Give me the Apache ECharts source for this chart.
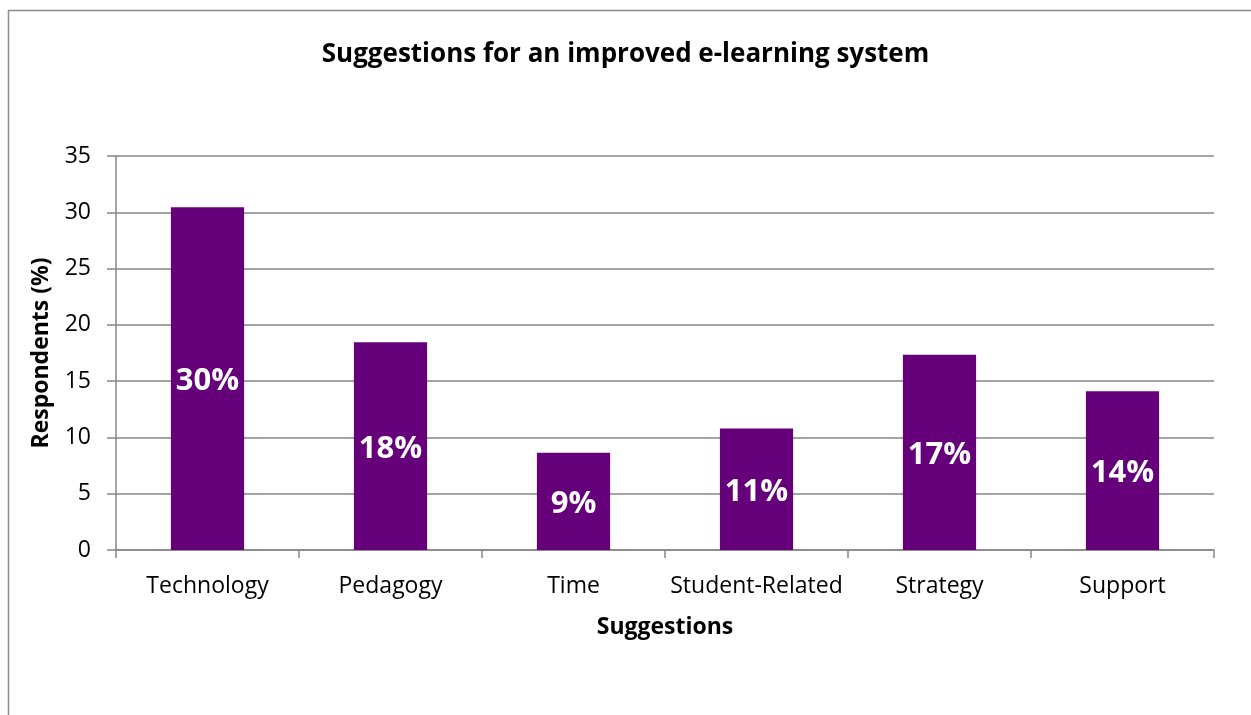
<!DOCTYPE html>
<html>
<head>
<meta charset="utf-8">
<script src="https://cdn.jsdelivr.net/npm/echarts@6/dist/echarts.min.js"></script>
<style>html,body{margin:0;padding:0;background:#fff;}#c{width:1251px;height:715px;}</style>
</head>
<body>
<div id="c"></div>
<script>
const categories = ['Technology', 'Pedagogy', 'Time', 'Student-Related', 'Strategy', 'Support'];
const values = [30.45, 18.45, 8.65, 10.8, 17.35, 14.1];
const valueLabels = ['30%', '18%', '9%', '11%', '17%', '14%'];
const yTicks = { min: 0, max: 35, interval: 5 };

const chart = echarts.init(document.getElementById('c'));
const FONT = 'Open Sans';
chart.setOption({
  backgroundColor: '#fff',
  animation: false,
  textStyle: { fontFamily: FONT },
  graphic: [{
    type: 'rect',
    shape: { x: 8.5, y: 10.5, width: 1400, height: 900 },
    style: { fill: 'none', stroke: '#8c8c8c', lineWidth: 1.5 },
    silent: true
  }],
  title: {
    text: 'Suggestions for an improved e-learning system',
    left: 'center',
    top: 37,
    textStyle: { fontFamily: FONT, fontSize: 26, fontWeight: 'bold', color: '#000' }
  },
  grid: { left: 116, right: 37, top: 156, bottom: 165, containLabel: false },
  xAxis: {
    type: 'category',
    data: categories,
    name: 'Suggestions',
    nameLocation: 'middle',
    nameGap: 66,
    nameTextStyle: { fontFamily: FONT, fontSize: 23, fontWeight: 'bold', color: '#000' },
    axisLine: { show: true, lineStyle: { color: '#868686', width: 1.5 } },
    axisTick: { show: true, alignWithLabel: false, length: 8, lineStyle: { color: '#868686', width: 1.5 } },
    axisLabel: { interval: 0, fontFamily: FONT, fontSize: 23, color: '#000', margin: 25 }
  },
  yAxis: {
    type: 'value',
    min: yTicks.min, max: yTicks.max, interval: yTicks.interval,
    name: 'Respondents (%)',
    nameLocation: 'middle',
    nameGap: 63,
    nameTextStyle: { fontFamily: FONT, fontSize: 23, fontWeight: 'bold', color: '#000' },
    axisLine: { show: true, lineStyle: { color: '#868686', width: 1.5 } },
    axisTick: { show: true, length: 9, lineStyle: { color: '#868686', width: 1.5 } },
    axisLabel: { fontFamily: FONT, fontSize: 23, color: '#000', margin: 25 },
    splitLine: { show: true, lineStyle: { color: '#868686', width: 1.5 } }
  },
  series: [{
    type: 'bar',
    data: values,
    barWidth: '40%',
    itemStyle: { color: '#66007A' },
    label: {
      show: true,
      position: 'inside',
      offset: [0, 3],
      formatter: p => valueLabels[p.dataIndex],
      fontFamily: FONT,
      fontSize: 31,
      fontWeight: 'bold',
      color: '#fff'
    }
  }]
});
</script>
</body>
</html>
